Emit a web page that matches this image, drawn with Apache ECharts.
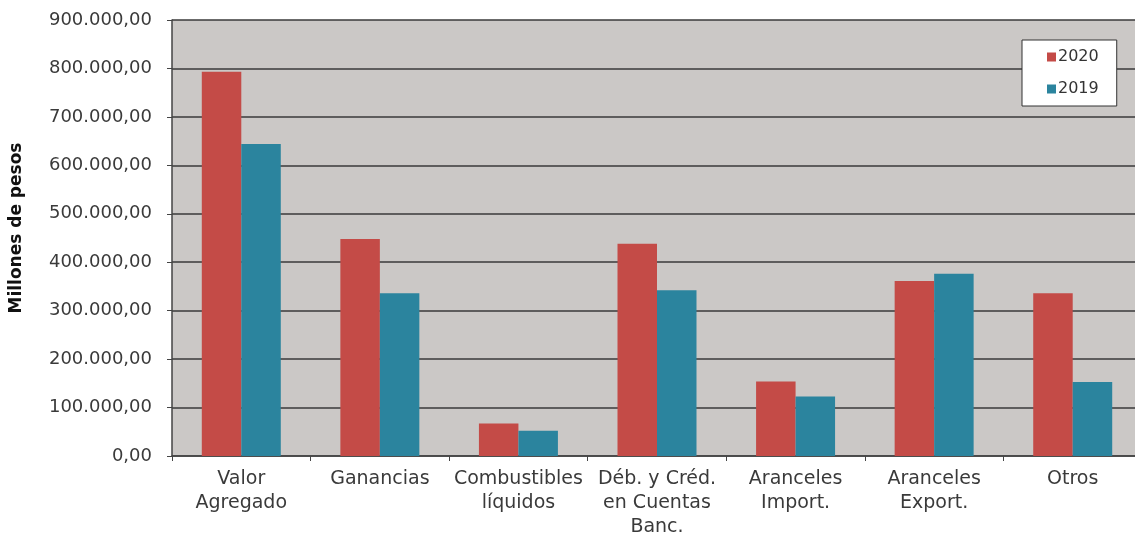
<!DOCTYPE html>
<html>
<head>
<meta charset="utf-8">
<script src="https://cdn.jsdelivr.net/npm/echarts@6/dist/echarts.min.js"></script>
<style>html,body{margin:0;padding:0;background:#fff;overflow:hidden;}#c{width:1135px;height:536px;}</style>
</head>
<body>
<div id="c"></div>
<script>
const categories = ["Valor\nAgregado", "Ganancias", "Combustibles\nlíquidos", "Déb. y Créd.\nen Cuentas\nBanc.", "Aranceles\nImport.", "Aranceles\nExport.", "Otros"];
const values2020 = [793000, 448000, 67000, 438000, 154000, 361000, 336000];
const values2019 = [644000, 336000, 52000, 342000, 123000, 376000, 153000];
const seriesNames = ["2020", "2019"];
const yAxisTitle = "Millones de pesos";

function fmt(v) {
  const s = Math.round(v).toString().replace(/\B(?=(\d{3})+(?!\d))/g, ".");
  return s + ",00";
}

const chart = echarts.init(document.getElementById('c'), null, {renderer: 'canvas'});
const font = "'DejaVu Sans', Verdana, sans-serif";
chart.setOption({
  animation: false,
  backgroundColor: '#ffffff',
  grid: {left: 172, top: 20, right: -7, bottom: 80, backgroundColor: '#CBC8C6', show: true, borderWidth: 0, outerBoundsMode: 'none', containLabel: false},
  legend: {
    orient: 'vertical', left: 1022, top: 40,
    backgroundColor: '#ffffff', borderColor: '#333', borderWidth: 1,
    padding: [9, 18, 9, 25], itemGap: 16, itemWidth: 9, itemHeight: 9,
    icon: 'rect',
    textStyle: {fontFamily: font, fontSize: 16, color: '#333', padding: [0, 0, 0, -3]},
    data: seriesNames
  },
  xAxis: {
    type: 'category', data: categories,
    axisLine: {lineStyle: {color: '#444', width: 1.5}},
    axisTick: {show: true, length: 5, lineStyle: {color: '#444'}},
    axisLabel: {fontFamily: font, fontSize: 19, color: '#3a3a3a', margin: 11, lineHeight: 24, interval: 0}
  },
  yAxis: {
    type: 'value', min: 0, max: 900000, interval: 100000,
    name: yAxisTitle, nameLocation: 'middle', nameGap: 147,
    nameTextStyle: {fontFamily: font, fontSize: 17, fontWeight: 'bold', color: '#111', padding: [0, 0, 0, 20]},
    axisLine: {show: true, lineStyle: {color: '#444', width: 1.5}},
    axisTick: {show: true, length: 5, lineStyle: {color: '#444'}},
    axisLabel: {fontFamily: font, fontSize: 18, color: '#3a3a3a', margin: 20, formatter: fmt},
    splitLine: {lineStyle: {color: '#3a3a3a', width: 1.5}}
  },
  series: [
    {name: seriesNames[0], type: 'bar', data: values2020, barGap: '0%', barCategoryGap: '43%', itemStyle: {color: '#C44B47'}},
    {name: seriesNames[1], type: 'bar', data: values2019, barGap: '0%', barCategoryGap: '43%', itemStyle: {color: '#2B849E'}}
  ]
});
</script>
</body>
</html>
